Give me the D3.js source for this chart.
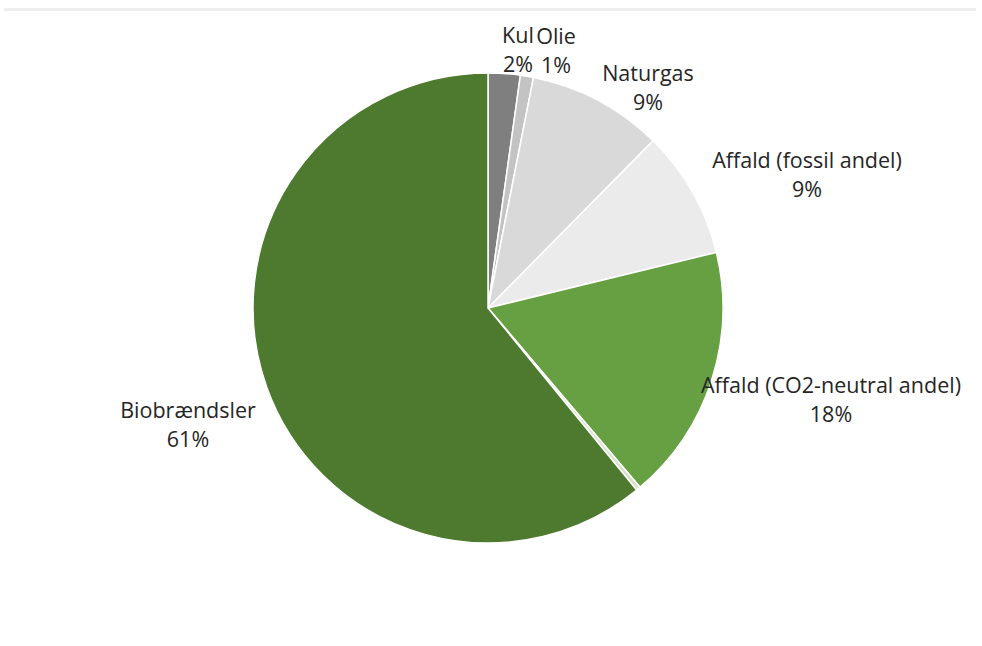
<!DOCTYPE html>
<html><head><meta charset="utf-8">
<script src="https://cdn.jsdelivr.net/npm/d3@7"></script>
<style>body{margin:0;background:#fff}svg{display:block}</style>
</head><body>
<svg id="c" width="982" height="646"></svg>
<script>
const categories = ["Kul","Olie","Naturgas","Affald (fossil andel)","Affald (CO2-neutral andel)","Øvrige","Biobrændsler"];
const values = [2.2, 0.9, 9.3, 8.8, 17.6, 0.3, 60.9];
const colors = ["#7f7f7f","#c3c3c3","#d9d9d9","#ebebeb","#67a043","#d5e3c6","#4e7a2f"];
const showLabel = [true,true,true,true,true,false,true];
// label anchor positions (first line centre) – layout only
const labelPos = [[518,35],[556,36],[648,73],[807,160],[831,385],[0,0],[188,410]];

const svg = d3.select("#c");
svg.append("rect").attr("x",4).attr("y",8).attr("width",972).attr("height",3).attr("fill","#eeeeee");

const cx = 488, cy = 308, R = 235;
const data = categories.map((c,i)=>({cat:c,value:values[i],color:colors[i],label:showLabel[i],pos:labelPos[i]}));
const pie = d3.pie().value(d=>d.value).sort(null);
const arc = d3.arc().innerRadius(0).outerRadius(R);
const g = svg.append("g").attr("transform",`translate(${cx},${cy})`);
g.selectAll("path").data(pie(data)).join("path")
  .attr("d",arc).attr("fill",d=>d.data.color)
  .attr("stroke","#fff").attr("stroke-width",1.5).attr("stroke-linejoin","round");

const lab = svg.append("g").attr("font-family","'Open Sans', Lato, sans-serif").attr("font-size",21.5).attr("fill","#262626").attr("text-anchor","middle");
data.filter(d=>d.label).forEach(d=>{
  const t = lab.append("text").attr("x",d.pos[0]).attr("y",d.pos[1]);
  t.append("tspan").attr("x",d.pos[0]).attr("dy","0.35em").text(d.cat);
  t.append("tspan").attr("x",d.pos[0]).attr("dy","1.36em").text(Math.round(d.value)+"%");
});
</script>
</body></html>
